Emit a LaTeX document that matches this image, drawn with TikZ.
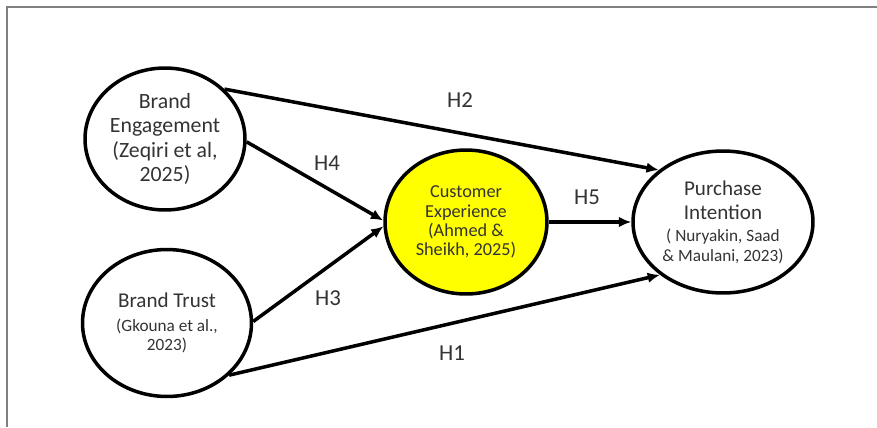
\documentclass[tikz,border=0pt]{standalone}
\usepackage{fontspec}
\setmainfont{Carlito}
\usepackage{tikz}
\usetikzlibrary{positioning, arrows.meta, shapes.geometric}
\definecolor{txtgray}{HTML}{333333}
\definecolor{cexyellow}{HTML}{FFFF00}
\newcommand{\bigsize}{\fontsize{12.4}{14}\selectfont}
\newcommand{\midsize}{\fontsize{12}{14}\selectfont}
\newcommand{\srcsize}{\fontsize{9.8}{11}\selectfont}
\newcommand{\cexsize}{\fontsize{10.4}{11}\selectfont}
\tikzset{%
	thick/.style = {line width = 2pt},
	>={Latex[length=7pt, width=6pt]},
	every edge/.append style={thick},
	construct/.style = {name = #1, ellipse, draw, thick, inner sep = 0pt, align = center, text = txtgray},
	hyp/.style = {name = #1, text = txtgray, font = \fontsize{13}{15}\selectfont}
}
\begin{document}
\begin{tikzpicture}[x=0.02cm, y=-0.02cm]
			\useasboundingbox (0,0) rectangle (877,427);
			\draw [gray, line width = 0.8pt] (7,427) -- (7,7) -- (877,7);
			\node [construct = {BE}, font = \bigsize, minimum width = 3.2cm, minimum height = 2.84cm] at (165,139) {Brand\\Engagement\\(Zeqiri et al,\\2025)};
			\node [construct = {BT}, font = \srcsize, minimum width = 3.38cm, minimum height = 2.94cm] at (167,323) {\midsize Brand Trust\\[2.5pt]\srcsize (Gkouna et al.,\\\srcsize 2023)};
			\node [construct = {CE}, font = \cexsize, fill = cexyellow, minimum width = 3.24cm, minimum height = 2.88cm] at (466,222) {Customer\\Experience\\(Ahmed \&\\Sheikh, 2025)};
			\node [construct = {PI}, font = \srcsize, minimum width = 3.6cm, minimum height = 2.84cm] at (723,222) {\midsize Purchase\\[3pt]\midsize Intention\\[1.5pt]\srcsize ( Nuryakin, Saad\\\srcsize \& Maulani, 2023)};
			\path [->] (BE.40) edge (PI.141);
			\path [->] (BE.-2) edge (CE.179);
			\path [->] (BT.1) edge (CE.183);
			\path [->] (BT.-40) edge (PI.-140);
			\path [->] (CE.east) edge (PI.west);
			\node [hyp = {H2}] at (460,100) {H2};
			\node [hyp = {H4}] at (327,163) {H4};
			\node [hyp = {H3}] at (328,298) {H3};
			\node [hyp = {H1}] at (452,353) {H1};
			\node [hyp = {H5}] at (587,197) {H5};
			\end{tikzpicture}
\end{document}
